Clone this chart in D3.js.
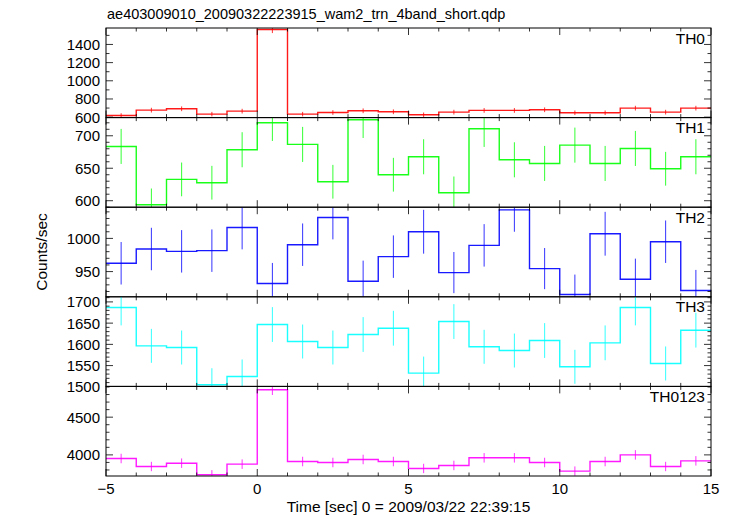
<!DOCTYPE html>
<html>
<head>
<meta charset="utf-8">
<script src="https://cdn.jsdelivr.net/npm/d3@7"></script>
<style>
html,body{margin:0;padding:0;background:#fff;}
svg text{font-family:"Liberation Sans",Arial,Helvetica,sans-serif;fill:#000;}
</style>
</head>
<body>
<svg id="chart" width="733" height="516"></svg>
<script>
// ---------- data ----------
const title = "ae403009010_20090322223915_wam2_trn_4band_short.qdp";
const xLabel = "Time [sec] 0 = 2009/03/22 22:39:15";
const yLabel = "Counts/sec";
const binStarts = [-5,-4,-3,-2,-1,0,1,2,3,4,5,6,7,8,9,10,11,12,13,14];
const binWidth = 1;
const xTickLabels = [-5, 0, 5, 10, 15];

const panelNames = ["TH0","TH1","TH2","TH3","TH0123"];
const panelColors = ["#ff0000","#00ff00","#0000ff","#00ffff","#ff00ff"];

const th0 = [618,677,692,633,666,1565,633,651,670,659,626,655,674,674,681,648,648,699,655,699];
const th0Err = [25,26,26,25,26,40,25,26,26,26,25,26,26,26,26,25,25,26,26,26];
const th1 = [683.6,593.8,632.8,627.7,678.5,720,686.7,629.2,724.6,640,667.7,612.3,710.8,663,657.4,685.6,657.4,680.5,649.2,667.7];
const th1Err = [27,25,26,26,27,28,27,26,28,26,27,25,28,27,27,27,27,27,26,27];
const th2 = [962.5,984,980.5,981.5,1016.5,932,990.5,1031.5,935.5,972.5,1010,948.5,989.5,1043,954.5,915.5,1007,938.5,995,921.5];
const th2Err = [32,32,32,32,33,31,32,33,31,32,33,31,32,33,31,30,33,31,32,31];
const th3 = [1686.7,1596.5,1592.6,1504.8,1524.4,1646.7,1606.7,1592.6,1623.2,1638,1532.2,1653.7,1594.2,1585.5,1609,1547.1,1603.6,1686.7,1555,1633.4];
const th3Err = [42,40,40,39,40,41,40,40,41,41,39,41,40,40,41,40,41,42,40,41];
const th0123 = [3952,3846,3890,3737,3877,4864,3912,3899,3939,3912,3820,3860,3961,3961,3899,3785,3912,4000,3846,3921];
const th0123Err = [63,62,63,61,63,70,63,63,63,63,62,63,63,63,63,62,63,63,62,63];

const seriesValues = [th0, th1, th2, th3, th0123];
const seriesErrors = [th0Err, th1Err, th2Err, th3Err, th0123Err];

const yDomains = [[595,1581],[590,728],[912,1047],[1501,1712],[3720,4908]];
const yMajorTicks = [[600,800,1000,1200,1400],[600,650,700],[950,1000],[1500,1550,1600,1650,1700],[4000,4500]];
const yMinorSteps = [100, 10, 10, 10, 100];

// ---------- layout ----------
const W = 733, H = 516;
const left = 106, right = 711;
const top0 = 28, bottom = 476;
const nP = panelNames.length;
const pH = (bottom - top0) / nP;

const svg = d3.select("#chart");
const x = d3.scaleLinear().domain([-5, 15]).range([left, right]);

// title
svg.append("text").attr("x", left + 1).attr("y", 19)
  .attr("font-size", "14.5px").text(title);

// y label
svg.append("text")
  .attr("transform", `translate(47,${(top0+bottom)/2}) rotate(-90)`)
  .attr("text-anchor", "middle").attr("font-size", "15.5px").text(yLabel);

// x label
svg.append("text").attr("x", (left+right)/2).attr("y", 512)
  .attr("text-anchor", "middle").attr("font-size", "15.5px").text(xLabel);

const xMinor = d3.range(-5, 15.001, 1);

panelNames.forEach((name, i) => {
  const pt = top0 + i * pH, pb = pt + pH;
  const y = d3.scaleLinear().domain(yDomains[i]).range([pb, pt]);
  const g = svg.append("g");
  const clipId = "clip" + i;
  svg.append("clipPath").attr("id", clipId).append("rect")
    .attr("x", left).attr("y", pt).attr("width", right-left).attr("height", pH);

  const vals = seriesValues[i], errs = seriesErrors[i];
  // step line
  const pts = [];
  binStarts.forEach((b, k) => {
    pts.push([b, vals[k]]);
    pts.push([b + binWidth, vals[k]]);
  });
  const line = d3.line().x(d => x(d[0])).y(d => y(d[1]));
  const data = g.append("g").attr("clip-path", `url(#${clipId})`);
  data.append("path").attr("d", line(pts)).attr("fill", "none")
    .attr("stroke", panelColors[i]).attr("stroke-width", 1.4).attr("stroke-opacity", 0.9);
  // error bars
  data.selectAll("line.err").data(binStarts).enter().append("line")
    .attr("x1", (b) => x(b + binWidth/2)).attr("x2", (b) => x(b + binWidth/2))
    .attr("y1", (b, k) => y(vals[k] - errs[k])).attr("y2", (b, k) => y(vals[k] + errs[k]))
    .attr("stroke", panelColors[i]).attr("stroke-width", 1).attr("stroke-opacity", 0.8);

  // frame
  g.append("rect").attr("x", left).attr("y", pt).attr("width", right-left).attr("height", pH)
    .attr("fill", "none").attr("stroke", "#000").attr("stroke-width", 1);

  // x ticks (top & bottom, inward)
  xMinor.forEach(v => {
    const len = (v % 5 === 0) ? 7 : 3.5;
    g.append("line").attr("x1", x(v)).attr("x2", x(v)).attr("y1", pt).attr("y2", pt + len)
      .attr("stroke", "#000").attr("stroke-width", 0.8);
    g.append("line").attr("x1", x(v)).attr("x2", x(v)).attr("y1", pb).attr("y2", pb - len)
      .attr("stroke", "#000").attr("stroke-width", 0.8);
  });

  // y ticks
  const dom = yDomains[i], st = yMinorSteps[i];
  const yMinor = d3.range(Math.ceil(dom[0]/st)*st, dom[1] + 0.001, st);
  yMinor.forEach(v => {
    const isMajor = yMajorTicks[i].includes(v);
    const len = isMajor ? 7 : 3.5;
    g.append("line").attr("x1", left).attr("x2", left + len).attr("y1", y(v)).attr("y2", y(v))
      .attr("stroke", "#000").attr("stroke-width", 0.8);
    g.append("line").attr("x1", right).attr("x2", right - len).attr("y1", y(v)).attr("y2", y(v))
      .attr("stroke", "#000").attr("stroke-width", 0.8);
  });

  // y tick labels
  yMajorTicks[i].forEach(v => {
    g.append("text").attr("x", left - 6).attr("y", y(v)).attr("dy", "0.36em")
      .attr("text-anchor", "end").attr("font-size", "15px").text(v);
  });

  // panel label
  g.append("text").attr("x", right - 6).attr("y", pt + 15.5)
    .attr("text-anchor", "end").attr("font-size", "15.5px").text(name);

  // bottom x labels
  if (i === nP - 1) {
    xTickLabels.forEach(v => {
      g.append("text").attr("x", x(v)).attr("y", 494).attr("text-anchor", "middle")
        .attr("font-size", "15px").text(v < 0 ? "\u2212" + Math.abs(v) : v);
    });
  }
});
</script>
</body>
</html>
